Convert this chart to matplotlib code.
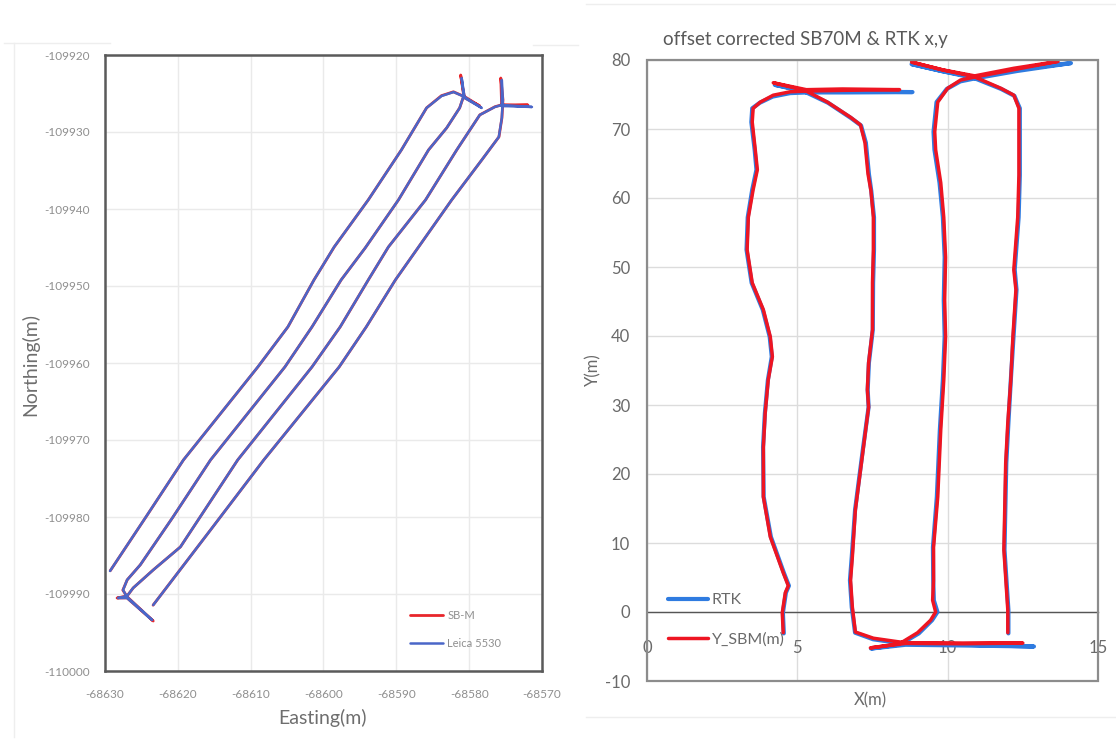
import matplotlib
matplotlib.use("Agg")
import matplotlib.pyplot as plt
from matplotlib.lines import Line2D
from matplotlib.patches import Rectangle

plt.rcParams['font.family'] = ['Lato', 'DejaVu Sans']
plt.rcParams['axes.unicode_minus'] = False

# ---------------- Easting / Northing tracks ----------------
leica_e = [-68629.31, -68624.48, -68619.24, -68609.03, -68604.90, -68601.31, -68598.55, -68593.86,
           -68589.31, -68585.86, -68583.79, -68582.14, -68580.62, -68578.28, -68580.62, -68581.03,
           -68580.76, -68581.31, -68583.10, -68585.59, -68589.72, -68594.28, -68597.59, -68601.59,
           -68605.31, -68615.52, -68620.76, -68625.17, -68626.97, -68627.52, -68626.97, -68623.52,
           -68626.97, -68628.21, -68626.97, -68626.14, -68623.38, -68619.66, -68611.79, -68601.59,
           -68597.72, -68593.86, -68591.10, -68586.00, -68581.72, -68578.55, -68576.48, -68575.52,
           -68571.38, -68575.52, -68575.52, -68575.38, -68575.52, -68575.93, -68578.28, -68582.41,
           -68590.14, -68594.14, -68597.86, -68608.21, -68615.52, -68623.38]
leica_n = [-109987.01, -109980.13, -109972.60, -109960.52, -109955.32, -109949.22, -109944.94, -109938.83,
           -109932.34, -109926.88, -109925.32, -109924.81, -109925.45, -109926.88, -109925.58, -109922.99,
           -109925.32, -109926.88, -109929.48, -109932.34, -109938.83, -109945.06, -109949.22, -109955.32,
           -109960.52, -109972.60, -109980.13, -109986.23, -109988.18, -109989.48, -109990.39, -109993.38,
           -109990.52, -109990.52, -109990.26, -109989.22, -109986.88, -109983.90, -109972.60, -109960.52,
           -109955.32, -109949.22, -109944.94, -109938.83, -109932.34, -109927.79, -109926.75, -109926.49,
           -109926.75, -109926.62, -109923.25, -109925.84, -109928.18, -109930.65, -109933.64, -109938.83,
           -109949.22, -109955.32, -109960.52, -109972.60, -109981.69, -109991.43]

sbm_e = [-68629.28, -68624.45, -68619.22, -68609.00, -68604.88, -68601.30, -68598.52, -68593.84,
         -68589.30, -68585.84, -68583.80, -68582.16, -68580.60, -68578.55, -68580.64, -68581.17,
         -68580.74, -68581.30, -68583.08, -68585.57, -68589.70, -68594.26, -68597.57, -68601.57,
         -68605.29, -68615.50, -68620.74, -68625.15, -68626.95, -68627.55, -68626.95, -68623.38,
         -68626.99, -68628.34, -68626.95, -68626.12, -68623.36, -68619.64, -68611.77, -68601.57,
         -68597.70, -68593.84, -68591.08, -68585.98, -68581.70, -68578.53, -68576.46, -68575.50,
         -68571.93, -68575.54, -68575.66, -68575.36, -68575.50, -68575.91, -68578.26, -68582.39,
         -68590.12, -68594.12, -68597.84, -68608.19, -68615.50, -68623.40]
sbm_n = [-109986.98, -109980.10, -109972.58, -109960.50, -109955.30, -109949.20, -109944.92, -109938.80,
         -109932.32, -109926.86, -109925.28, -109924.78, -109925.42, -109926.62, -109925.55, -109922.60,
         -109925.30, -109926.86, -109929.46, -109932.32, -109938.81, -109945.04, -109949.20, -109955.30,
         -109960.50, -109972.58, -109980.11, -109986.21, -109988.16, -109989.50, -109990.37, -109993.51,
         -109990.50, -109990.52, -109990.24, -109989.20, -109986.86, -109983.88, -109972.58, -109960.50,
         -109955.30, -109949.20, -109944.92, -109938.81, -109932.32, -109927.77, -109926.72, -109926.46,
         -109926.49, -109926.60, -109922.99, -109925.82, -109928.16, -109930.63, -109933.62, -109938.81,
         -109949.20, -109955.30, -109960.50, -109972.58, -109981.67, -109991.45]

east_ticks = [-68630, -68620, -68610, -68600, -68590, -68580, -68570]
north_ticks = [-110000, -109990, -109980, -109970, -109960, -109950, -109940, -109930, -109920]

# ---------------- Offset corrected local x,y ----------------
rtk_x = [4.55, 4.52, 4.62, 4.72, 4.55, 4.12, 3.88, 3.86, 3.92, 4.02, 4.15, 4.08, 3.85, 3.48, 3.31, 3.35,
         3.50, 3.64, 3.58, 3.47, 3.50, 3.75, 4.18, 4.76, 5.33, 6.60, 8.83, 6.60, 5.30, 4.25, 5.25, 6.02,
         6.78, 7.12, 7.28, 7.38, 7.46, 7.55, 7.55, 7.52, 7.51, 7.38, 7.34, 7.37, 7.19, 6.92, 6.81, 6.75,
         6.81, 6.92, 7.52, 8.30, 8.60, 10.60, 12.87, 10.50, 8.60, 7.45, 8.42, 9.04, 9.48, 9.66, 9.54,
         9.52, 9.51, 9.64, 9.74, 9.84, 9.90, 9.87, 9.90, 9.84, 9.73, 9.56, 9.53, 9.63, 9.97, 10.42,
         10.87, 12.30, 14.10, 12.25, 10.90, 9.80, 8.80, 9.90, 10.87, 11.78, 12.22, 12.40, 12.40, 12.40,
         12.36, 12.23, 12.29, 12.19, 12.10, 12.02, 11.95, 11.89, 12.02, 12.02]
rtk_y = [-3.1, -0.1, 2.8, 3.8, 5.7, 10.9, 16.7, 23.9, 28.8, 33.6, 37.0, 39.9, 43.8, 47.7, 52.5, 57.2,
         61.2, 64.1, 67.0, 71.0, 73.0, 73.8, 74.7, 75.2, 75.3, 75.3, 75.35, 75.45, 75.5, 76.4, 75.4, 73.8,
         71.6, 70.5, 68.0, 63.5, 61.0, 57.2, 52.5, 47.7, 40.9, 36.1, 32.2, 29.7, 23.9, 14.8, 8.0, 4.6,
         0.7, -3.0, -3.95, -4.45, -4.6, -4.75, -5.0, -4.85, -4.75, -5.3, -4.7, -3.1, -1.2, 0.0, 1.7,
         4.6, 9.4, 16.7, 26.4, 33.6, 39.9, 45.2, 51.4, 57.2, 62.2, 67.0, 69.6, 73.9, 75.8, 76.9,
         77.3, 78.4, 79.55, 78.6, 77.5, 78.4, 79.4, 78.3, 77.4, 75.8, 74.8, 73.0, 67.0, 63.3,
         57.2, 49.6, 46.7, 39.9, 33.6, 27.4, 21.6, 9.0, 0.3, -3.1]

ysbm_x = [4.53, 4.50, 4.60, 4.70, 4.53, 4.10, 3.87, 3.87, 3.93, 4.03, 4.17, 4.10, 3.87, 3.50, 3.33, 3.37,
          3.53, 3.67, 3.60, 3.50, 3.53, 3.77, 4.20, 4.77, 5.33, 6.50, 8.40, 6.50, 5.30, 4.20, 5.25, 6.00,
          6.77, 7.10, 7.25, 7.35, 7.45, 7.53, 7.53, 7.50, 7.50, 7.37, 7.33, 7.37, 7.20, 6.93, 6.83, 6.77,
          6.83, 6.93, 7.53, 8.33, 8.60, 10.50, 12.50, 10.50, 8.60, 7.43, 8.40, 9.00, 9.43, 9.60, 9.50,
          9.53, 9.53, 9.67, 9.77, 9.87, 9.93, 9.90, 9.93, 9.87, 9.77, 9.60, 9.57, 9.67, 10.00, 10.43,
          10.87, 12.20, 13.67, 12.20, 10.90, 9.80, 8.80, 9.90, 10.87, 11.77, 12.20, 12.37, 12.37, 12.37,
          12.33, 12.20, 12.27, 12.17, 12.10, 12.00, 11.93, 11.87, 12.00, 12.00]
ysbm_y = [-3.0, -0.1, 2.8, 3.8, 5.7, 10.9, 16.7, 23.9, 28.8, 33.6, 37.0, 39.9, 43.8, 47.7, 52.5, 57.2,
          61.2, 64.1, 67.0, 71.0, 73.0, 73.9, 74.9, 75.4, 75.5, 75.6, 75.7, 75.8, 75.7, 76.7, 75.6, 73.9,
          71.7, 70.6, 68.0, 63.5, 61.0, 57.2, 52.5, 47.7, 40.9, 36.1, 32.2, 29.7, 23.9, 14.8, 8.0, 4.6,
          0.7, -2.9, -3.8, -4.3, -4.45, -4.5, -4.5, -4.6, -4.55, -5.2, -4.6, -3.0, -1.2, 0.0, 1.7,
          4.6, 9.4, 16.7, 26.4, 33.6, 39.9, 45.2, 51.4, 57.2, 62.2, 67.0, 69.6, 73.9, 75.9, 77.1,
          77.5, 78.6, 79.8, 78.8, 77.7, 78.6, 79.7, 78.5, 77.6, 75.9, 74.9, 73.0, 67.0, 63.3,
          57.2, 49.6, 46.7, 39.9, 33.6, 27.4, 21.6, 9.0, 0.3, -3.0]

xy_x_ticks = [0, 5, 10, 15]
xy_y_ticks = [-10, 0, 10, 20, 30, 40, 50, 60, 70, 80]

W, H = 1116, 742
fig = plt.figure(figsize=(W / 100, H / 100), dpi=100)
fig.patch.set_facecolor('white')


def fx(px):
    return px / W


def fy(py):
    return 1 - py / H


# faint chart-area borders
for (x0, y0, x1, y1) in [(14, 43, 14, 737), (4, 43, 110, 43), (533, 45, 578, 45),
                         (586, 4, 1116, 4), (586, 717, 1116, 717)]:
    fig.add_artist(Line2D([fx(x0), fx(x1)], [fy(y0), fy(y1)], color='#EEEEEE', lw=1.0,
                          transform=fig.transFigure))

# ---------------- left panel ----------------
axL = fig.add_axes([fx(105), fy(671), fx(542) - fx(105), fy(55) - fy(671)])
axL.plot(sbm_e, sbm_n, color='#E8262B', lw=2.0, solid_capstyle='round', label='SB-M', zorder=3)
axL.plot(leica_e, leica_n, color='#4A66C8', lw=1.8, solid_capstyle='round', label='Leica 5530', zorder=4)
axL.set_xlim(-68630, -68570)
axL.set_ylim(-110000, -109920)
axL.set_xticks(east_ticks)
axL.set_xticklabels([str(v) for v in east_ticks])
axL.set_yticks(north_ticks)
axL.set_yticklabels([str(v) for v in north_ticks])
axL.tick_params(length=0, labelsize=8.5, labelcolor='#8F8F8F')
axL.tick_params(axis='x', pad=13)
axL.tick_params(axis='y', pad=11)
axL.grid(True, color='#EAEAEA', lw=1.0)
axL.set_axisbelow(True)
for s in axL.spines.values():
    s.set_color('#5A5A5A')
    s.set_linewidth(1.8)
legL = axL.legend(loc='upper left', bbox_to_anchor=(fx(410), fy(610)), bbox_transform=fig.transFigure,
                  frameon=False, fontsize=8, labelcolor='#8F8F8F', handlelength=3.0,
                  handletextpad=0.35, labelspacing=1.5, borderpad=0, borderaxespad=0)
fig.text(fx(323), fy(718), 'Easting(m)', ha='center', va='center', fontsize=14, color='#6E6E6E')
fig.text(fx(30), fy(365), 'Northing(m)', ha='center', va='center', rotation=90, fontsize=14,
         color='#6E6E6E')

# ---------------- right panel ----------------
axR = fig.add_axes([fx(647), fy(681), fx(1098) - fx(647), fy(60) - fy(681)])
axR.plot(rtk_x, rtk_y, color='#2F7BE0', lw=3.0, solid_capstyle='round', label='RTK', zorder=3)
axR.plot(ysbm_x, ysbm_y, color='#EE1522', lw=2.5, solid_capstyle='round', label='Y_SBM(m)', zorder=4)
axR.set_xlim(0, 15)
axR.set_ylim(-10, 80)
axR.set_xticks(xy_x_ticks)
axR.set_xticklabels([str(v) for v in xy_x_ticks])
axR.set_yticks(xy_y_ticks)
axR.set_yticklabels([str(v) for v in xy_y_ticks])
axR.tick_params(length=0, labelsize=12, labelcolor='#6A6A6A')
axR.tick_params(axis='x', pad=20)
axR.tick_params(axis='y', pad=12)
axR.grid(True, color='#DCDCDC', lw=1.0)
axR.set_axisbelow(True)
for side in ['top', 'right', 'left']:
    axR.spines[side].set_visible(False)
axR.spines['bottom'].set_position(('data', 0))
axR.spines['bottom'].set_color('#555555')
axR.spines['bottom'].set_linewidth(1.0)
axR.add_patch(Rectangle((0, 0), 1, 1, transform=axR.transAxes, fill=False, ec='#8C8C8C', lw=1.6,
                        clip_on=False, zorder=5))
legR = axR.legend(loc='upper left', bbox_to_anchor=(fx(668), fy(593)), bbox_transform=fig.transFigure,
                  frameon=False, fontsize=11.5, labelcolor='#6A6A6A', handlelength=2.5,
                  handletextpad=0.25, labelspacing=1.55, borderpad=0, borderaxespad=0)
legR.set_zorder(2)
fig.text(fx(663), fy(40), 'offset corrected SB70M & RTK x,y', ha='left', va='center', fontsize=13.5,
         color='#595959')
fig.text(fx(870), fy(700), 'X(m)', ha='center', va='center', fontsize=12, color='#6A6A6A')
fig.text(fx(593), fy(370), 'Y(m)', ha='center', va='center', rotation=90, fontsize=12, color='#6A6A6A')

fig.savefig('out.png', dpi=100, facecolor='white')
